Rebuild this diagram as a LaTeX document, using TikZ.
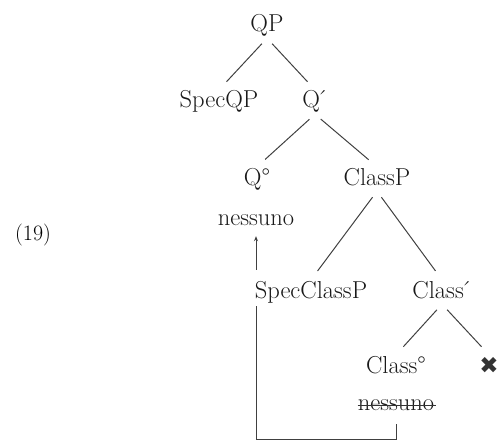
\documentclass[tikz,border=0pt]{standalone}
\usepackage{fontspec}
\usetikzlibrary{arrows.meta}
\newfontfamily\dejavu{DejaVu Sans}

\tikzset{
  cat/.style={anchor=base, inner sep=0pt, text height=18pt, text depth=6pt,
              font=\fontsize{24.5}{28}\selectfont, text=black!90},
  branch/.style={draw=black!75, line width=1pt, shorten <=7.5pt, shorten >=11pt},
  movement/.style={draw=black!75, line width=0.85pt},
  strike/.style={draw=black!80, line width=0.9pt},
}
\newcommand{\barlevel}{\kern-3.5pt´}

\begin{document}
\begin{tikzpicture}[x=1pt, y=-1pt]
  \useasboundingbox (0,0) rectangle (500,441);

  % example number
  \node[anchor=base, inner sep=0pt, font=\fontsize{22}{26}\selectfont] (ex) at (33,240) {(19)};

  % tree nodes
  \node[cat] (qp)       at (267,32)  {QP};
  \node[cat] (specqp)   at (219,108) {SpecQP};
  \node[cat] (qbar)     at (315,108) {Q\barlevel};
  \node[cat] (q0)       at (257,185) {Q°};
  \node[cat] (classp)   at (377,185) {ClassP};
  \node[cat] (nes1)     at (256,225) {nessuno};
  \node[cat] (scp)      at (311,298) {SpecClassP};
  \node[cat] (classbar) at (442,298) {Class\barlevel};
  \node[cat] (class0)   at (396,373) {Class°};
  \node[cat] (nes2)     at (396,410) {nessuno};
  \node[cat, font=\dejavu\fontsize{23}{28}\selectfont, text=black!80] (cross) at (489,373) {✖};

  % deleted copy
  \draw[strike] ([yshift=5pt]nes2.base west) -- ([xshift=2pt, yshift=5pt]nes2.base east);

  % branches
  \draw[branch] (qp.south) -- (specqp.north);
  \draw[branch] (qp.south) -- (qbar.north);
  \draw[branch] (qbar.south) -- (q0.north);
  \draw[branch] (qbar.south) -- (classp.north);
  \draw[branch] (classp.south) -- (scp.north);
  \draw[branch] (classp.south) -- (classbar.north);
  \draw[branch] (classbar.south) -- (class0.north);
  \draw[branch] (classbar.south) -- (cross.north);

  % movement path
  \draw[movement, shorten <=8pt, shorten >=2pt]
    (nes2.south) -- ++(0,23) -| (scp.south -| nes1.south);
  \draw[movement, shorten <=10pt, shorten >=5pt, -{Stealth[length=5pt, width=4pt]}]
    (scp.north -| nes1.south) -- (nes1.south);
\end{tikzpicture}
\end{document}
